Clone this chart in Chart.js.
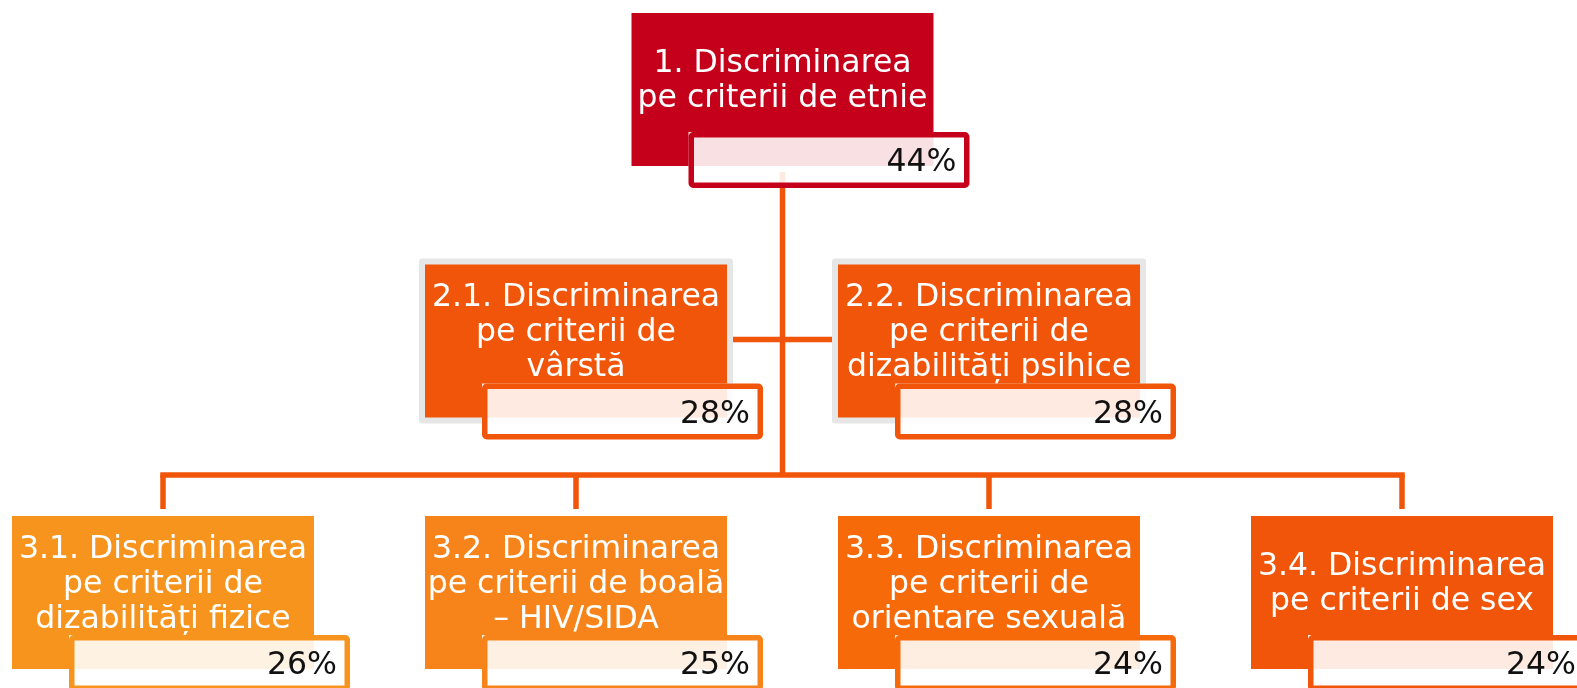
<!DOCTYPE html>
<html lang="ro">
<head>
<meta charset="utf-8">
<title>Discriminare</title>
<script src="https://cdn.jsdelivr.net/npm/chart.js@4.4.0/dist/chart.umd.min.js"></script>
<style>
    html, body { margin: 0; padding: 0; background: #fff; }
    #wrap { width: 1577px; height: 688px; position: relative; }
</style>
</head>
<body>
<div id="wrap"><canvas id="orgChart"></canvas></div>
<script>
// ===== DATA =====
const nodeLabels = [
    ['1. Discriminarea', 'pe criterii de etnie'],
    ['2.1. Discriminarea', 'pe criterii de', 'vârstă'],
    ['2.2. Discriminarea', 'pe criterii de', 'dizabilități psihice'],
    ['3.1. Discriminarea', 'pe criterii de', 'dizabilități fizice'],
    ['3.2. Discriminarea', 'pe criterii de boală', '– HIV/SIDA'],
    ['3.3. Discriminarea', 'pe criterii de', 'orientare sexuală'],
    ['3.4. Discriminarea', 'pe criterii de sex']
];
const percentValues = [44, 28, 28, 26, 25, 24, 24];
const nodeLevels = [0, 1, 1, 2, 2, 2, 2];      // row in the hierarchy
const nodeSlots = [1.5, 1, 2, 0, 1, 2, 3];     // column slot

// ===== STYLE =====
const boxColors = ['#C5001A', '#F0550A', '#F0550A', '#F7941E', '#F7841A', '#F76A0A', '#F0550A'];
const lineColor = '#F0550A';
const FONT = '31.5px "DejaVu Sans", Verdana, sans-serif';
const BOX_W = 302, BOX_H = 153;
const LINE_H = 35;

// slot / level -> pixel mapping (used for scale ranges)
const SLOT_ORIGIN = 163, SLOT_PX = 413;
const LEVEL_ORIGIN = 13, LEVEL_PX = 251.5;
const W = 1577, H = 688;

const orgPlugin = {
    id: 'orgBoxes',
    afterDatasetsDraw(chart) {
        const ctx = chart.ctx;
        const meta = chart.getDatasetMeta(0);
        const boxes = meta.data.map((pt, i) => ({
            i,
            cx: pt.x,
            top: pt.y,
            left: pt.x - BOX_W / 2,
            right: pt.x + BOX_W / 2,
            bottom: pt.y + BOX_H,
            level: nodeLevels[i]
        }));
        const root = boxes.find(b => b.level === 0);
        const assistants = boxes.filter(b => b.level === 1);
        const children = boxes.filter(b => b.level === 2);

        ctx.save();

        // connectors
        ctx.strokeStyle = lineColor;
        ctx.lineWidth = 5.5;
        ctx.lineCap = 'butt';
        const busY = children[0].top - 41;

        ctx.beginPath();
        ctx.moveTo(root.cx, root.bottom + 6);
        ctx.lineTo(root.cx, busY);
        ctx.stroke();

        assistants.forEach(a => {
            const yy = a.top + 75;
            ctx.beginPath();
            if (a.cx < root.cx) {
                ctx.moveTo(a.right + 5, yy);
                ctx.lineTo(root.cx, yy);
            } else {
                ctx.moveTo(root.cx, yy);
                ctx.lineTo(a.left - 5, yy);
            }
            ctx.stroke();
        });

        const xs = children.map(c => c.cx);
        ctx.lineCap = 'square';
        ctx.beginPath();
        ctx.moveTo(Math.min(...xs), busY);
        ctx.lineTo(Math.max(...xs), busY);
        ctx.stroke();
        ctx.lineCap = 'butt';
        children.forEach(c => {
            ctx.beginPath();
            ctx.moveTo(c.cx, busY);
            ctx.lineTo(c.cx, c.top - 7);
            ctx.stroke();
        });

        // grey frames behind assistant boxes
        ctx.fillStyle = '#E6E6E6';
        assistants.forEach(a => {
            ctx.beginPath();
            ctx.roundRect(a.left - 6, a.top - 6, BOX_W + 12, BOX_H + 12, 3);
            ctx.fill();
        });

        // boxes + labels
        boxes.forEach(b => {
            ctx.fillStyle = boxColors[b.i];
            ctx.fillRect(b.left, b.top, BOX_W, BOX_H);

            const lines = nodeLabels[b.i];
            const mid = b.top + 76.5;
            ctx.fillStyle = '#fff';
            ctx.font = FONT;
            ctx.textAlign = 'center';
            ctx.textBaseline = 'alphabetic';
            lines.forEach((t, k) => {
                ctx.fillText(t, b.cx, mid + (k - (lines.length - 1) / 2) * LINE_H);
            });
        });

        // percent boxes
        boxes.forEach(b => {
            const pl = b.left + 57, pt = b.top + 119, pw = 281, ph = 56;
            ctx.fillStyle = 'rgba(255,255,255,0.88)';
            ctx.fillRect(pl, pt, pw, ph);
            ctx.strokeStyle = boxColors[b.i];
            ctx.lineWidth = 5.5;
            ctx.beginPath();
            ctx.roundRect(pl + 2.75, pt + 2.75, pw - 5.5, ph - 5.5, 2);
            ctx.stroke();

            ctx.fillStyle = '#111';
            ctx.font = FONT;
            ctx.textAlign = 'right';
            ctx.fillText(percentValues[b.i] + '%', pl + pw - 13, pt + 39);
        });

        ctx.restore();
    }
};

new Chart(document.getElementById('orgChart'), {
    type: 'scatter',
    data: {
        datasets: [{
            label: 'Discriminare',
            data: nodeSlots.map((s, i) => ({ x: s, y: nodeLevels[i] })),
            pointRadius: 0,
            pointHoverRadius: 0
        }]
    },
    options: {
        responsive: true,
        maintainAspectRatio: false,
        animation: false,
        events: [],
        layout: { padding: 0 },
        plugins: {
            legend: { display: false },
            tooltip: { enabled: false }
        },
        scales: {
            x: {
                type: 'linear',
                display: false,
                min: -SLOT_ORIGIN / SLOT_PX,
                max: (W - SLOT_ORIGIN) / SLOT_PX
            },
            y: {
                type: 'linear',
                display: false,
                reverse: true,
                min: -LEVEL_ORIGIN / LEVEL_PX,
                max: (H - LEVEL_ORIGIN) / LEVEL_PX
            }
        }
    },
    plugins: [orgPlugin]
});
</script>
</body>
</html>
